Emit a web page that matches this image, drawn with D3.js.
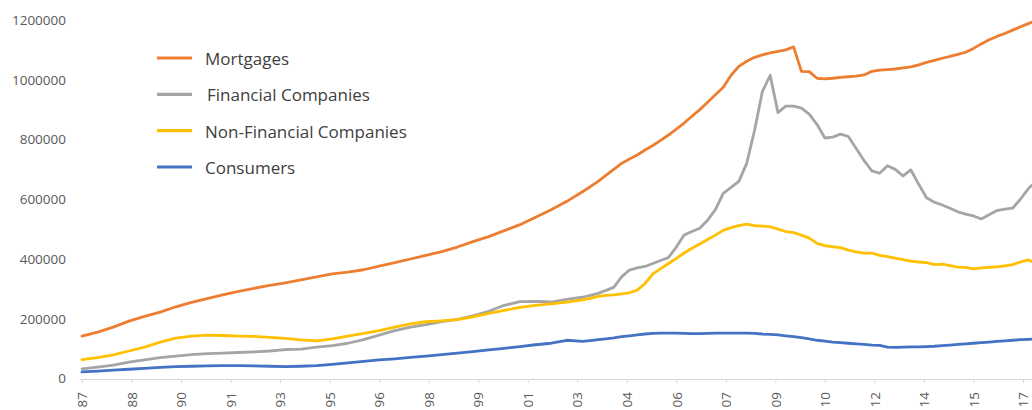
<!DOCTYPE html>
<html>
<head>
<meta charset="utf-8">
<script src="https://cdn.jsdelivr.net/npm/d3@7"></script>
<style>
  html, body { margin: 0; padding: 0; background: #ffffff; }
  svg { display: block; }
</style>
</head>
<body>
<svg id="chart" width="1032" height="410"></svg>
<script>
// Observation dates: half-yearly until 2002, quarterly afterwards
const dates = [
  "1987-03","1987-09","1988-03","1988-09","1989-03","1989-09","1990-03","1990-09",
  "1991-03","1991-09","1992-03","1992-09","1993-03","1993-09","1994-03","1994-09",
  "1995-03","1995-09","1996-03","1996-09","1997-03","1997-09","1998-03","1998-09",
  "1999-03","1999-09","2000-03","2000-09","2001-03","2001-09","2002-03","2002-09",
  "2003-03","2003-06","2003-09","2003-12","2004-03","2004-06","2004-09","2004-12",
  "2005-03","2005-06","2005-09","2005-12","2006-03","2006-06","2006-09","2006-12",
  "2007-03","2007-06","2007-09","2007-12","2008-03","2008-06","2008-09","2008-12",
  "2009-03","2009-06","2009-09","2009-12","2010-03","2010-06","2010-09","2010-12",
  "2011-03","2011-06","2011-09","2011-12","2012-03","2012-06","2012-09","2012-12",
  "2013-03","2013-06","2013-09","2013-12","2014-03","2014-06","2014-09","2014-12",
  "2015-03","2015-06","2015-09","2015-12","2016-03","2016-06","2016-09","2016-12",
  "2017-03","2017-06","2017-09"
];

// Outstanding amounts, in thousands
const mortgages = [
  142,155,172,192,208,222,240,255,267,280,292,302,312,320,330,340,
  350,356,364,376,388,400,412,425,440,458,475,495,515,540,565,593,
  625,642,660,680,700,720,735,748,765,780,797,815,835,855,878,900,
  925,950,975,1015,1045,1062,1075,1083,1090,1095,1100,1110,1028,1027,1005,1003,
  1005,1008,1010,1012,1016,1028,1032,1034,1036,1040,1043,1050,1058,1065,1072,1078,
  1085,1092,1105,1120,1134,1145,1155,1166,1177,1188,1198
];
const financial = [
  32,38,45,55,62,70,75,80,83,85,87,89,92,97,98,105,
  110,118,130,145,160,172,180,190,198,210,225,245,257,258,256,265,
  272,278,285,295,305,340,363,370,375,385,395,405,440,480,492,503,
  530,565,620,640,660,720,830,960,1015,890,912,912,905,885,850,805,
  808,818,810,770,730,695,687,712,700,678,698,650,605,590,581,570,
  558,550,544,534,548,562,567,570,600,635,660
];
const nonFinancial = [
  63,70,79,92,105,122,135,142,145,144,142,141,138,134,129,126,
  133,142,151,160,172,183,190,193,197,206,218,228,238,245,250,256,
  263,268,275,278,280,283,287,296,318,350,368,385,402,420,436,450,
  465,480,496,505,512,517,512,510,508,500,492,488,480,470,452,445,
  441,438,430,424,420,420,412,408,403,398,393,390,388,381,383,378,
  373,372,367,370,372,374,377,381,390,397,386
];
const consumers = [
  22,25,28,31,34,37,40,41,42,43,43,42,41,40,41,43,
  47,52,57,62,66,71,75,80,85,90,96,101,107,113,118,128,
  124,127,130,133,136,140,143,146,149,151,152,152,152,151,150,150,
  151,152,152,152,152,152,151,149,148,146,143,140,137,133,128,125,
  122,120,118,116,114,112,111,105,104,105,106,106,107,108,110,112,
  114,116,118,120,122,124,126,128,130,131,132
];

const seriesNames = ["Mortgages", "Financial Companies", "Non-Financial Companies", "Consumers"];
const seriesColors = ["#ED7D31", "#A5A5A5", "#FFC000", "#4472C4"];

// Category axis: one label every 19 months, starting March 1987
const tickLabels = ["87","88","90","91","93","95","96","98","99","01",
                    "03","04","06","07","09","10","12","14","15","17"];
const tickStep = 19;
const yTicks = [0, 200000, 400000, 600000, 800000, 1000000, 1200000];
const unit = 1000;

const svg = d3.select("#chart");
const parse = d3.timeParse("%Y-%m");
const start = parse(dates[0]);
const monthIndex = dates.map(d => d3.timeMonth.count(start, parse(d)));

const lastTick = (tickLabels.length - 1) * tickStep;
const x = d3.scaleLinear().domain([0, lastTick]).range([82, 1023]);
const y = d3.scaleLinear().domain([0, 1200000]).range([378.5, 20]);

const font = "'Open Sans', 'DejaVu Sans', sans-serif";

// y-axis labels (no axis line)
const yAxis = d3.axisLeft(y).tickValues(yTicks).tickSize(0).tickPadding(0).tickFormat(d3.format("d"));
svg.append("g")
  .attr("transform", "translate(66,0)")
  .call(yAxis)
  .call(g => g.select(".domain").remove())
  .call(g => g.selectAll("text")
    .attr("fill", "#595959")
    .style("font-family", font)
    .style("font-size", "13.5px"));

// x-axis line, ticks and rotated labels
const tickVals = tickLabels.map((_, i) => i * tickStep);
const xAxis = d3.axisBottom(x).tickValues(tickVals).tickSize(4).tickSizeOuter(0)
  .tickFormat((d, i) => tickLabels[i]);
const xg = svg.append("g")
  .attr("transform", "translate(0,379)")
  .call(xAxis);
xg.select(".domain").attr("stroke", "#d9d9d9").attr("d", "M80,0.5H1032");
xg.selectAll(".tick line").attr("stroke", "#d9d9d9");
xg.selectAll(".tick text")
  .attr("fill", "#595959")
  .style("font-family", font)
  .style("font-size", "13.5px")
  .attr("text-anchor", "end")
  .attr("dy", "0.35em")
  .attr("transform", "translate(0,13) rotate(-90)")
  .attr("x", 0)
  .attr("y", 0);

// series lines
const seriesValues = [mortgages, financial, nonFinancial, consumers];
const line = d3.line()
  .x((d, i) => x(monthIndex[i]))
  .y(d => y(d * unit));

svg.append("g")
  .selectAll("path")
  .data(seriesValues)
  .join("path")
  .attr("d", line)
  .attr("fill", "none")
  .attr("stroke", (d, i) => seriesColors[i])
  .attr("stroke-width", 2.8)
  .attr("stroke-linejoin", "round")
  .attr("stroke-linecap", "round");

// legend
const legendY = d3.scalePoint().domain(seriesNames).range([58, 167]);
const legend = svg.append("g");
const items = legend.selectAll("g")
  .data(seriesNames)
  .join("g")
  .attr("transform", d => `translate(0,${legendY(d)})`);
items.append("line")
  .attr("x1", 157).attr("x2", 192)
  .attr("y1", 0).attr("y2", 0)
  .attr("stroke", (d, i) => seriesColors[i])
  .attr("stroke-width", 3.2);
items.append("text")
  .attr("x", (d, i) => i === 1 ? 207 : 205)
  .attr("y", 1)
  .attr("dy", "0.35em")
  .attr("fill", "#404040")
  .style("font-family", font)
  .style("font-size", "17px")
  .text(d => d);
</script>
</body>
</html>
